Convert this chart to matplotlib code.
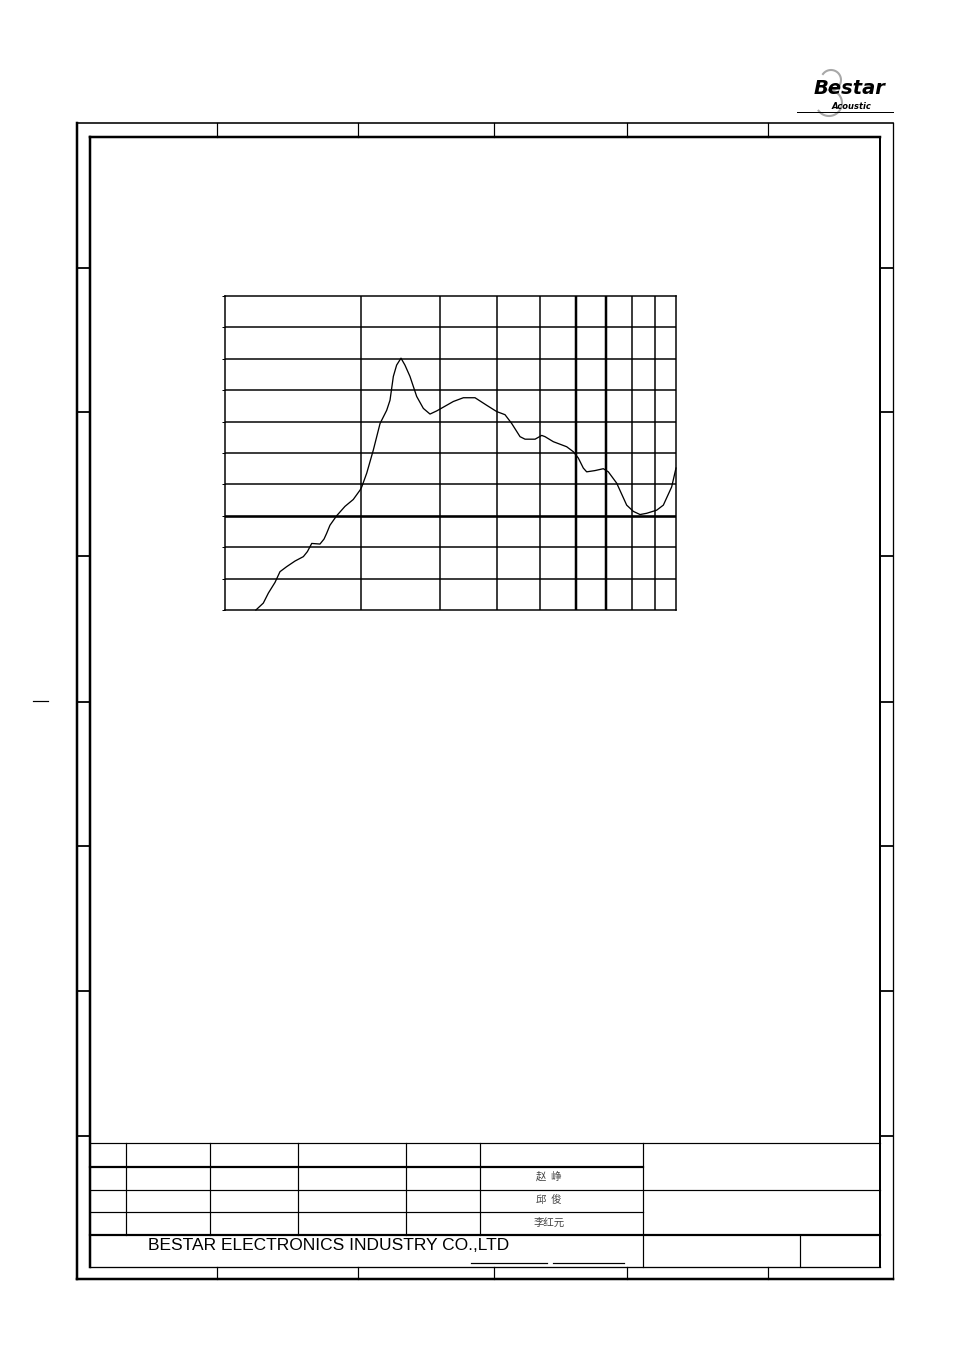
import numpy as np
import matplotlib
matplotlib.use('Agg')
import matplotlib.pyplot as plt

# frequency response (Hz, dB)
freq = [1171, 1216, 1248, 1291, 1324, 1370, 1430, 1492, 1523, 1557,
        1624, 1658, 1680, 1709, 1768, 1845, 1925, 1993, 2010, 2062,
        2133, 2207, 2283, 2322, 2362, 2402, 2456, 2506, 2571, 2661,
        2753, 2848, 2947, 3101, 3208, 3377, 3584, 3804, 4003, 4177,
        4322, 4510, 4627, 4870, 5038, 5124, 5346, 5722, 5921, 6073,
        6230, 6338, 6612, 6900, 7079, 7387, 7774, 8044, 8323, 8610,
        9063, 9374, 9781, 10000]
spl = [50.0, 51.1, 52.7, 54.4, 56.1, 56.9, 57.8, 58.5, 59.3, 60.6,
       60.5, 61.3, 62.2, 63.5, 65.0, 66.5, 67.6, 69.1, 69.6, 71.8,
       75.5, 79.7, 81.8, 83.4, 87.2, 89.0, 90.1, 89.0, 87.2, 84.0,
       82.1, 81.2, 81.7, 82.6, 83.2, 83.8, 83.8, 82.6, 81.6, 81.1,
       79.7, 77.6, 77.2, 77.2, 77.8, 77.6, 76.8, 76.0, 75.2, 74.2,
       72.6, 72.0, 72.2, 72.5, 72.0, 70.2, 66.7, 65.7, 65.2, 65.4,
       65.9, 66.7, 69.6, 72.6]

freq_grid = [2000, 3000, 4000, 5000, 6000, 7000, 8000, 9000]
freq_bold = [6000, 7000]
db_grid = [55, 60, 65, 70, 75, 80, 85, 90, 95]
db_bold = [65]

names = ['赵  峥', '邱  俊', '李红元']
company = 'BESTAR ELECTRONICS INDUSTRY CO.,LTD'

W, H = 954, 1351
PX = 0.72  # one pixel in points

fig = plt.figure(figsize=(W / 100, H / 100), dpi=100)
page = fig.add_axes([0, 0, 1, 1])
page.set_xlim(0, W)
page.set_ylim(H, 0)
page.axis('off')


def seg(x0, y0, x1, y1, w=1.2):
    page.plot([x0, x1], [y0, y1], color='black', lw=w * PX,
              solid_capstyle='projecting')


# outer and inner borders
seg(77, 123, 893, 123, 1.6)
seg(77, 123, 77, 1279, 2.5)
seg(893, 123, 893, 1279, 1.3)
seg(77, 1279, 893, 1279, 2.5)
seg(90, 137, 880, 137, 2.5)
seg(90, 137, 90, 1267, 2.5)
seg(880, 137, 880, 1267, 2)
seg(90, 1267, 880, 1267, 1.3)

# zone marks
for x in [217, 358, 494, 627, 768]:
    seg(x, 123, x, 137)
    seg(x, 1267, x, 1279)
for y in [268, 412, 556, 702, 846, 991, 1136]:
    seg(77, y, 90, y, 1.8)
    seg(880, y, 893, y, 1.8)
seg(33, 701, 48, 701)

# logo: grey "3" swoosh drawn as arcs, then the lettering
t = np.linspace(2.5, -1.6, 40)
page.plot(831 + 10 * np.cos(t), 80 - 10 * np.sin(t), color='#a8a8a8', lw=1.5, zorder=1)
t2 = np.linspace(1.6, -2.5, 40)
page.plot(829 + 13 * np.cos(t2), 103 - 13 * np.sin(t2), color='#a8a8a8', lw=1.5, zorder=1)
page.text(850, 88, 'Bestar', fontsize=14, fontweight='bold', style='italic',
          ha='center', va='center', family='DejaVu Sans', zorder=2)
page.text(851, 106.5, 'Acoustic', fontsize=6, fontweight='bold', style='italic',
          ha='center', va='center', family='DejaVu Sans', zorder=2)
seg(797, 112, 893, 112, 1)

# title block
seg(90, 1143, 880, 1143)
for x in [126, 210, 298, 406, 480]:
    seg(x, 1143, x, 1235)
seg(643, 1143, 643, 1267)
seg(90, 1167, 643, 1167, 2.2)
seg(90, 1190, 880, 1190)
seg(90, 1212, 643, 1212)
seg(90, 1235, 880, 1235, 2.2)
seg(800, 1235, 800, 1267)
for name, y in zip(names, [1177, 1200, 1223]):
    page.text(549, y, name, fontsize=7.5, color='#444444', ha='center',
              va='center', family=['Noto Sans CJK SC', 'DejaVu Sans'])
page.text(148, 1246, company, fontsize=12.5, ha='left', va='center',
          family=['Liberation Sans Narrow', 'Liberation Sans', 'DejaVu Sans'])
seg(471, 1263, 547, 1263)
seg(553, 1263, 624, 1263)

# response chart
ax = fig.add_axes([225 / W, 1 - 610 / H, 451 / W, 314 / H])
ax.set_xscale('log')
ax.set_xlim(1000, 10000)
ax.set_ylim(50, 100)
for f in freq_grid:
    ax.axvline(f, color='black', lw=(2.5 if f in freq_bold else 1.5) * PX)
for d in db_grid:
    ax.axhline(d, color='black', lw=(2.6 if d in db_bold else 1.5) * PX)
ax.plot(freq, spl, color='black', lw=1.3 * PX, solid_joinstyle='round',
        clip_on=False)
for s in ax.spines.values():
    s.set_linewidth(1.5 * PX)
ax.set_xticks([])
ax.set_xticks([], minor=True)
ax.set_yticks(db_grid + [50, 100])
ax.tick_params(axis='y', direction='out', length=2, width=PX, labelleft=False)
ax.set_facecolor('none')

fig.savefig('out.png', dpi=100)
